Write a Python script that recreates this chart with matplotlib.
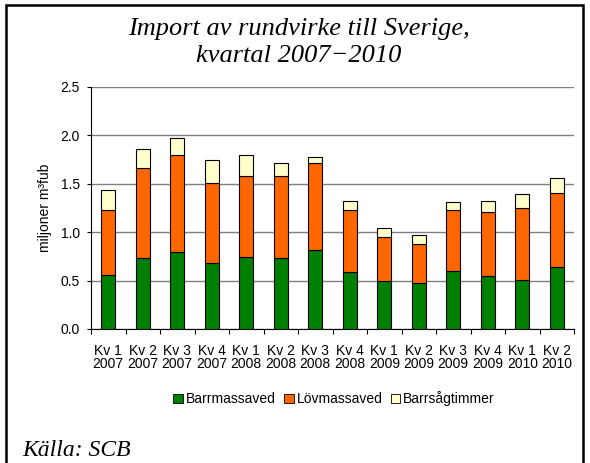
import matplotlib
matplotlib.use("Agg")
import matplotlib.pyplot as plt
from matplotlib.patches import Rectangle, Patch
import numpy as np

categories = ["Kv 1\n2007", "Kv 2\n2007", "Kv 3\n2007", "Kv 4\n2007",
              "Kv 1\n2008", "Kv 2\n2008", "Kv 3\n2008", "Kv 4\n2008",
              "Kv 1\n2009", "Kv 2\n2009", "Kv 3\n2009", "Kv 4\n2009",
              "Kv 1\n2010", "Kv 2\n2010"]
barrmassaved = [0.555, 0.731, 0.793, 0.682, 0.741, 0.731, 0.814, 0.586,
                0.493, 0.472, 0.603, 0.545, 0.503, 0.644]
lovmassaved = [0.672, 0.930, 1.003, 0.831, 0.841, 0.848, 0.899, 0.641,
               0.455, 0.404, 0.624, 0.662, 0.745, 0.766]
barrsagtimmer = [0.207, 0.200, 0.176, 0.231, 0.214, 0.134, 0.066, 0.093,
                 0.093, 0.096, 0.083, 0.113, 0.148, 0.148]
series_names = ["Barrmassaved", "Lövmassaved", "Barrsågtimmer"]
colors = ["#008000", "#FF6600", "#FFFFCC"]

W, H = 590, 463
fig = plt.figure(figsize=(W / 100, H / 100), dpi=100)
plt.rcParams['font.family'] = ['Liberation Sans', 'DejaVu Sans']

# outer border
fig.patches.append(Rectangle((6 / W, -0.05), 577 / W, 1.05 - 5 / H,
                             transform=fig.transFigure, fill=False,
                             edgecolor="black", linewidth=1.8))

ax = fig.add_axes([91 / W, 1 - 329 / H, (574 - 91) / W, (329 - 87) / H])
x = np.arange(len(categories))
bw = 0.41
b1 = np.array(barrmassaved)
b2 = np.array(lovmassaved)
b3 = np.array(barrsagtimmer)
ax.bar(x, b1, bw, color=colors[0], edgecolor="black", linewidth=0.8, zorder=3)
ax.bar(x, b2, bw, bottom=b1, color=colors[1], edgecolor="black", linewidth=0.8, zorder=3)
ax.bar(x, b3, bw, bottom=b1 + b2, color=colors[2], edgecolor="black", linewidth=0.8, zorder=3)

ax.set_xlim(-0.5, len(categories) - 0.5)
ax.set_ylim(0, 2.5)
ax.set_yticks(np.arange(0, 2.51, 0.5))
ax.set_yticklabels([f"{v:.1f}" for v in np.arange(0, 2.51, 0.5)], fontsize=10)
ax.yaxis.grid(True, color="#808080", linewidth=1, zorder=0)
ax.set_axisbelow(True)
ax.set_xticks(np.arange(-0.5, len(categories), 1.0))
ax.set_xticklabels([])
ax.set_xticks(x, minor=True)
ax.set_xticklabels(categories, minor=True, fontsize=10, linespacing=0.9)
ax.tick_params(axis="x", which="minor", length=0, pad=11)
ax.tick_params(axis="x", which="major", length=3.6, direction="out", width=0.8)
ax.tick_params(axis="y", length=3, direction="out", width=0.8, pad=5)
for s in ["top", "right"]:
    ax.spines[s].set_visible(False)
ax.spines["left"].set_linewidth(0.8)
ax.spines["bottom"].set_linewidth(0.8)
ax.set_ylabel("miljoner m³fub", fontsize=10, labelpad=6)

handles = [Patch(facecolor=c, edgecolor="black", linewidth=0.6) for c in colors]
fig.legend(handles, series_names, loc="center", bbox_to_anchor=(334 / W, 1 - 399 / H),
           ncol=3, frameon=False, fontsize=10, handlelength=0.7, handleheight=0.7,
           handletextpad=0.2, columnspacing=0.6)

fig.text(299 / W, 1 - 29 / H, "Import av rundvirke till Sverige,", ha="center", va="center",
         fontsize=19, style="italic", family=["Liberation Serif"])
fig.text(299 / W, 1 - 56 / H, "kvartal 2007\u22122010", ha="center", va="center",
         fontsize=19, style="italic", family=["Liberation Serif", "DejaVu Serif"])
fig.text(22 / W, 1 - 450 / H, "Källa: SCB", ha="left", va="center",
         fontsize=17, style="italic", family=["Liberation Serif"])

fig.savefig("out.png", dpi=100)
